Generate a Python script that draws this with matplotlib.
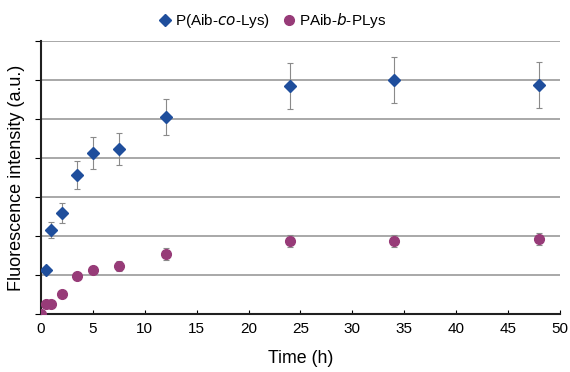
import matplotlib
matplotlib.use("Agg")
import matplotlib.pyplot as plt
from matplotlib.ticker import MultipleLocator
from matplotlib.lines import Line2D

plt.rcParams['font.family'] = ['Liberation Sans', 'DejaVu Sans']

# Время (ч) и интенсивность флуоресценции (отн. ед.)
time_co = [0.5, 1, 2, 3.5, 5, 7.5, 12, 24, 34, 48]
co_values = [1.13, 2.15, 2.59, 3.56, 4.13, 4.23, 5.05, 5.85, 6.0, 5.87]
co_errors = [0.08, 0.2, 0.26, 0.35, 0.41, 0.42, 0.46, 0.59, 0.59, 0.59]

time_block = [0, 0.5, 1, 2, 3.5, 5, 7.5, 12, 24, 34, 48]
block_values = [0.0, 0.26, 0.26, 0.51, 0.97, 1.13, 1.23, 1.54, 1.87, 1.87, 1.92]
block_errors = [0.0, 0.0, 0.0, 0.0, 0.05, 0.1, 0.12, 0.16, 0.16, 0.16, 0.16]

co_label = 'P(Aib-$\\it{co}$-Lys)'
block_label = 'PAib-$\\it{b}$-PLys'
co_color = '#1f4e9c'
block_color = '#973b78'

fig = plt.figure(figsize=(5.7, 3.72), dpi=100)
ax = fig.add_axes([0.072, 0.156, 0.91, 0.734])

ax.errorbar(time_co, co_values, yerr=co_errors, fmt='D', color=co_color,
            markersize=6, ecolor='#8a8a8a', elinewidth=0.8, capsize=2,
            capthick=0.8, zorder=3)
ax.errorbar(time_block, block_values, yerr=block_errors, fmt='o', color=block_color,
            markersize=7, ecolor='#8a8a8a', elinewidth=0.8, capsize=2,
            capthick=0.8, zorder=3)

ax.set_xlim(0, 50)
ax.set_ylim(0, 7)
ax.xaxis.set_major_locator(MultipleLocator(5))
ax.yaxis.set_major_locator(MultipleLocator(1))
ax.set_yticklabels([])
ax.tick_params(axis='x', direction='in', length=3, labelsize=11, pad=6)
ax.tick_params(axis='y', direction='out', length=4)

ax.grid(True, axis='y', color='#9a9a9a', linewidth=1.2)
ax.set_axisbelow(True)
for side in ['top', 'right']:
    ax.spines[side].set_visible(False)
for side in ['left', 'bottom']:
    ax.spines[side].set_linewidth(1.5)
    ax.spines[side].set_color('#202020')

ax.set_xlabel('Time (h)', fontsize=12.8, labelpad=10)
ax.set_ylabel('Fluorescence intensity (a.u.)', fontsize=13, labelpad=4)

handles = [
    Line2D([], [], linestyle='none', marker='D', markersize=6, color=co_color),
    Line2D([], [], linestyle='none', marker='o', markersize=7, color=block_color),
]
ax.legend(handles, [co_label, block_label], loc='lower center',
          bbox_to_anchor=(0.445, 1.0), ncol=2, frameon=False,
          fontsize=11, handletextpad=0.1, columnspacing=0.8, handlelength=1.0,
          borderaxespad=0.3)

fig.savefig('out.png', dpi=100)
